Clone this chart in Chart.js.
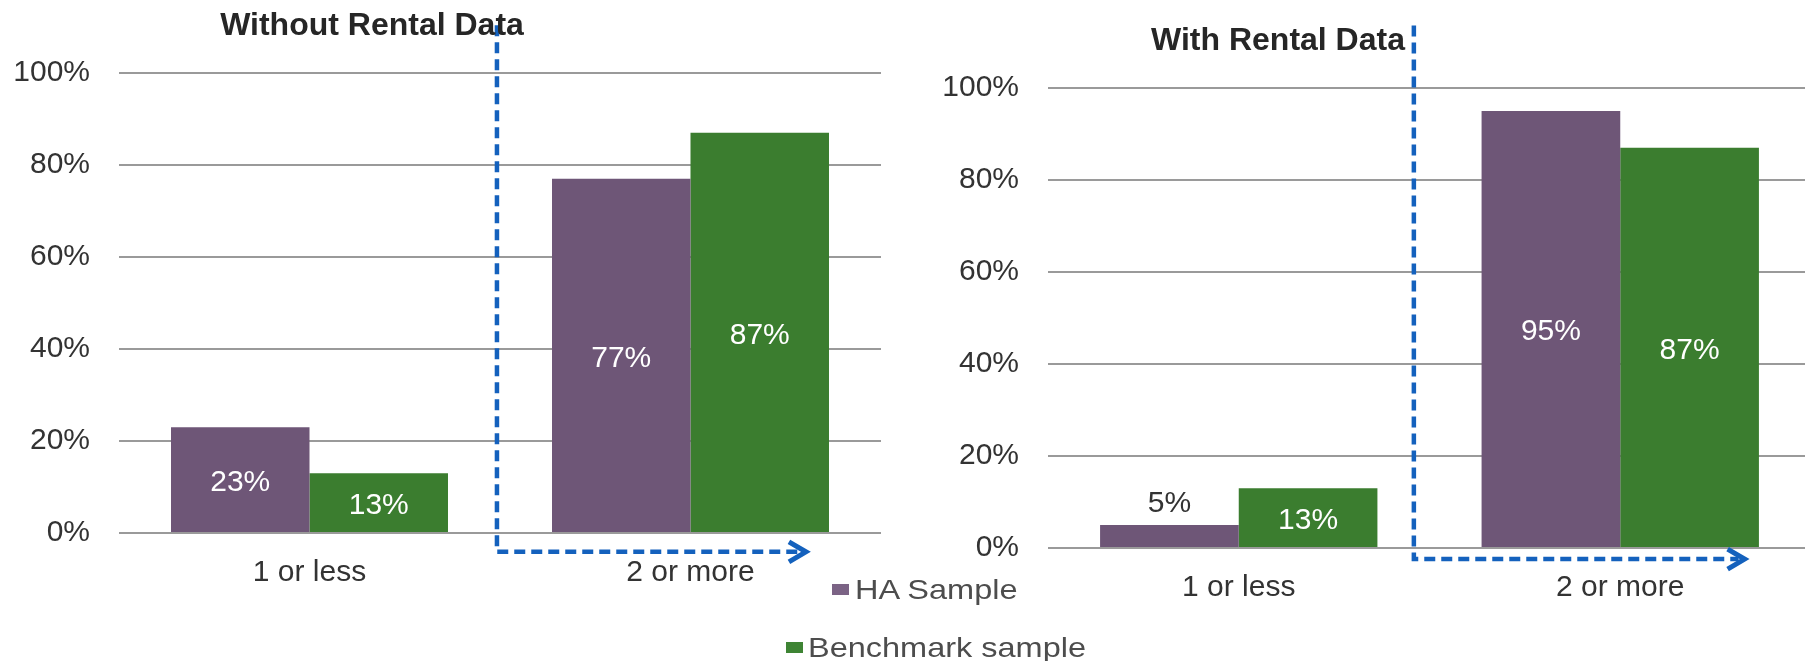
<!DOCTYPE html>
<html>
<head>
<meta charset="utf-8">
<script src="https://cdn.jsdelivr.net/npm/chart.js@4/dist/chart.umd.min.js"></script>
<style>
	html, body {
		margin: 0;
		padding: 0;
		background: #fff;
	}
	body {
		position: relative;
		width: 1805px;
		height: 661px;
		overflow: hidden;
		font-family: "Liberation Sans", Arial, sans-serif;
	}
	canvas {
		position: absolute;
		top: 0;
	}
	#left-chart { left: 0; }
	#right-chart { left: 930px; }
	.title {
		position: absolute;
		font-weight: bold;
		font-size: 32px;
		line-height: 32px;
		color: #262626;
		white-space: nowrap;
		transform: translateX(-50%);
		z-index: 2;
	}
	#legend {
		position: absolute;
		left: 0;
		top: 0;
		z-index: 3;
	}
	.legend-box {
		position: absolute;
		width: 17px;
		height: 11px;
	}
	.legend-text {
		position: absolute;
		white-space: nowrap;
		font-size: 28px;
		line-height: 28px;
		color: #4d4d4d;
		transform: scaleX(1.16);
		transform-origin: left center;
	}
</style>
</head>
<body>
<canvas id="left-chart" width="900" height="661"></canvas>
<canvas id="right-chart" width="900" height="661"></canvas>
<div class="title" style="left: 372px; top: 8px;">Without Rental Data</div>
<div class="title" style="left: 1278px; top: 23px;">With Rental Data</div>
<div id="legend"></div>
<script>
// categories and series
const categories = ["1 or less", "2 or more"];
const seriesNames = ["HA Sample", "Benchmark sample"];
const withoutHA = [23, 77];
const withoutBench = [13, 87];
const withHA = [5, 95];
const withBench = [13, 87];
const yTicks = [0, 20, 40, 60, 80, 100];

const purple = "#6E5677";
const green = "#3B7D2F";
const guideBlue = "#1461BD";

// draws the % labels on the bars
const barLabels = {
	id: "barLabels",
	afterDatasetsDraw(chart) {
		const ctx = chart.ctx;
		ctx.save();
		ctx.font = "30px 'Liberation Sans', Arial, sans-serif";
		ctx.textAlign = "center";
		chart.data.datasets.forEach((ds, i) => {
			chart.getDatasetMeta(i).data.forEach((bar, j) => {
				const txt = ds.data[j] + "%";
				const h = bar.base - bar.y;
				if (h < 35) {
					ctx.fillStyle = "#333";
					ctx.textBaseline = "bottom";
					ctx.fillText(txt, bar.x, bar.y - 6);
				} else {
					ctx.fillStyle = "#fff";
					ctx.textBaseline = "middle";
					ctx.fillText(txt, bar.x, (bar.y + bar.base) / 2 + 3);
				}
			});
		});
		ctx.restore();
	}
};

// dashed bracket + arrow round the "2 or more" group
const arrowGuide = {
	id: "arrowGuide",
	afterDraw(chart, args, opts) {
		const xs = chart.scales.x;
		const ys = chart.scales.y;
		const x0 = xs.getPixelForValue(opts.xFrom);
		const x1 = xs.getPixelForValue(opts.xTo);
		const yTop = ys.getPixelForValue(opts.yTop);
		const yBot = ys.getPixelForValue(opts.yBottom);
		const ctx = chart.ctx;
		ctx.save();
		ctx.strokeStyle = guideBlue;
		ctx.lineWidth = 4.5;
		ctx.setLineDash([11, 6]);
		ctx.beginPath();
		ctx.moveTo(x0, yTop);
		ctx.lineTo(x0, yBot);
		ctx.lineTo(x1 - 6, yBot);
		ctx.stroke();
		ctx.setLineDash([]);
		ctx.lineWidth = 5;
		ctx.lineJoin = "miter";
		ctx.beginPath();
		ctx.moveTo(x1 - 17, yBot - 10);
		ctx.lineTo(x1, yBot);
		ctx.lineTo(x1 - 17, yBot + 10);
		ctx.stroke();
		ctx.restore();
	}
};

function makeChart(id, haData, benchData, axisWidth, pad, guide) {
	return new Chart(document.getElementById(id), {
		type: "bar",
		data: {
			labels: categories,
			datasets: [
				{
					label: seriesNames[0],
					data: haData,
					backgroundColor: purple,
					categoryPercentage: 0.727,
					barPercentage: 1.0
				},
				{
					label: seriesNames[1],
					data: benchData,
					backgroundColor: green,
					categoryPercentage: 0.727,
					barPercentage: 1.0
				}
			]
		},
		options: {
			responsive: false,
			animation: false,
			devicePixelRatio: 1,
			layout: {
				padding: pad
			},
			plugins: {
				legend: { display: false },
				title: { display: false },
				tooltip: { enabled: false },
				arrowGuide: guide
			},
			scales: {
				x: {
					grid: { display: false },
					border: { display: false },
					ticks: {
						color: "#333",
						padding: 14,
						font: { family: "'Liberation Sans', Arial, sans-serif", size: 30 }
					},
					afterFit(scale) {
						scale.height = 60;
					}
				},
				y: {
					min: 0,
					max: 100,
					afterBuildTicks(scale) {
						scale.ticks = yTicks.map(v => ({ value: v }));
					},
					grid: {
						color: "#9a9a9a",
						lineWidth: 2,
						drawTicks: false
					},
					border: { display: false },
					ticks: {
						color: "#333",
						padding: 29,
						font: { family: "'Liberation Sans', Arial, sans-serif", size: 30 },
						callback: v => v + "%"
					},
					afterFit(scale) {
						scale.width = axisWidth;
					}
				}
			}
		},
		plugins: [barLabels, arrowGuide]
	});
}

makeChart("left-chart", withoutHA, withoutBench, 119,
	{ top: 73, bottom: 68, left: 0, right: 19 },
	{ xFrom: 0.492, xTo: 1.303, yTop: 110.4, yBottom: -4.1 });

makeChart("right-chart", withHA, withBench, 118,
	{ top: 88, bottom: 53, left: 0, right: 19 },
	{ xFrom: 0.459, xTo: 1.326, yTop: 113.6, yBottom: -2.4 });

// legend sits between the two charts
const legendSpots = [
	{ box: [832, 584], text: [855, 576] },
	{ box: [786, 642], text: [808, 634] }
];
const legendColors = ["#7B6385", "#3E8434"];
const legend = document.getElementById("legend");
seriesNames.forEach((name, i) => {
	const box = document.createElement("div");
	box.className = "legend-box";
	box.style.left = legendSpots[i].box[0] + "px";
	box.style.top = legendSpots[i].box[1] + "px";
	box.style.background = legendColors[i];
	legend.appendChild(box);
	const txt = document.createElement("div");
	txt.className = "legend-text";
	txt.style.left = legendSpots[i].text[0] + "px";
	txt.style.top = legendSpots[i].text[1] + "px";
	txt.textContent = name;
	legend.appendChild(txt);
});
</script>
</body>
</html>
